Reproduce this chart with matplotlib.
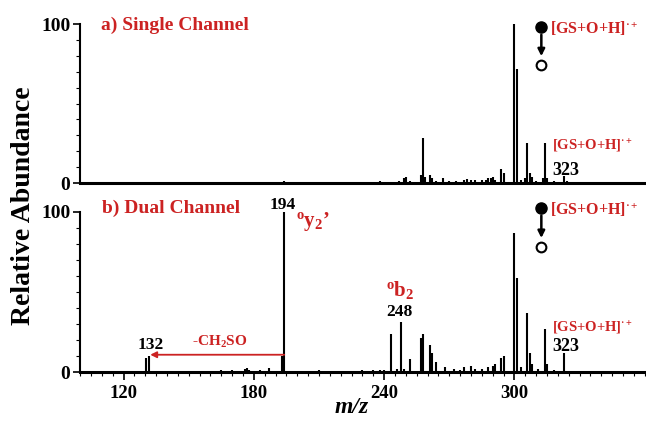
import matplotlib
matplotlib.use("Agg")
import matplotlib.pyplot as plt
from matplotlib.ticker import MultipleLocator

plt.rcParams['font.family'] = ['Liberation Serif', 'DejaVu Serif']
plt.rcParams['font.weight'] = 'bold'
plt.rcParams['mathtext.fontset'] = 'custom'
plt.rcParams['mathtext.rm'] = 'Liberation Serif:bold'
plt.rcParams['mathtext.it'] = 'Liberation Serif:italic:bold'
plt.rcParams['mathtext.bf'] = 'Liberation Serif:bold'

RED = '#cc2222'

# ---- data: (m/z, relative abundance) ----
single_mz = [166, 178, 194, 207, 218, 226, 232, 238, 244, 247, 249, 250, 252, 257, 258, 259,
             261, 262, 264, 267, 270, 273, 277, 278, 280, 282, 285, 287, 288, 289, 290, 291,
             294, 295, 300, 301, 303, 305, 306, 307, 308, 310, 313, 314, 315, 318, 323, 324]
single_int = [0.5, 0.6, 1.0, 0.6, 0.5, 0.6, 0.7, 1.0, 0.8, 1.0, 3.0, 4.0, 1.0, 5.0, 28.0, 4.0,
              5.0, 3.0, 1.0, 3.0, 1.0, 1.0, 2.0, 2.5, 2.0, 2.0, 2.0, 2.0, 3.0, 3.0, 4.0, 2.0,
              9.0, 6.0, 100.0, 72.0, 2.0, 3.0, 25.0, 6.0, 4.0, 1.5, 3.0, 25.0, 3.0, 1.0, 4.5, 1.5]

dual_mz = [130.5, 131.5, 148, 155, 160, 165, 168, 170, 176, 177, 178, 183, 187, 193, 194,
           200, 205, 210, 215, 220, 225, 230, 235, 238, 240, 243, 246, 248, 249, 252, 257, 258,
           261, 262, 264, 268, 272, 275, 277, 280, 282, 285, 288, 290, 291, 294, 295,
           300, 301, 303, 306, 307, 308, 311, 314, 315, 318, 323]
dual_int = [9.0, 10.0, 0.5, 0.6, 0.8, 1.0, 0.8, 1.5, 2.0, 2.5, 1.0, 1.0, 2.5, 10.0, 100.0,
            0.8, 0.8, 1.2, 0.8, 0.8, 0.8, 1.0, 1.0, 1.5, 1.0, 24.0, 2.0, 31.0, 2.0, 8.0, 21.0, 24.0,
            17.0, 12.0, 6.0, 3.0, 2.0, 1.5, 3.0, 4.0, 2.0, 2.0, 3.0, 4.0, 5.0, 9.0, 10.0,
            87.0, 59.0, 3.0, 37.0, 12.0, 5.0, 2.0, 27.0, 5.0, 1.5, 12.0]

x_major = [120, 180, 240, 300]
y_ticks = [0, 100]

fig = plt.figure(figsize=(6.46, 4.28), dpi=100)
ax1 = fig.add_axes([0.124, 0.5724, 0.874, 0.3715])
ax2 = fig.add_axes([0.124, 0.1308, 0.874, 0.3739])

for ax in (ax1, ax2):
    ax.set_xlim(100, 360)
    ax.set_ylim(0, 100)
    for s in ('top', 'right'):
        ax.spines[s].set_visible(False)
    ax.spines['left'].set_linewidth(1.5)
    ax.spines['bottom'].set_linewidth(2.2)
    ax.set_yticks(y_ticks)
    ax.set_yticklabels([str(v) for v in y_ticks], fontsize=14, fontweight='bold')
    ax.yaxis.set_minor_locator(MultipleLocator(10))
    ax.tick_params(axis='y', which='major', direction='out', length=5, width=1.2, pad=2)
    ax.tick_params(axis='y', which='minor', direction='out', length=3, width=0.8)

ax1.vlines(single_mz, 0, single_int, color='black', lw=1.5)
ax2.vlines(dual_mz, 0, dual_int, color='black', lw=1.5)

ax1.set_xticks([])
ax1.tick_params(axis='x', which='both', length=0)
ax2.set_xticks(x_major)
ax2.set_xticklabels([str(v) for v in x_major], fontsize=13.5, fontweight='bold')
ax2.xaxis.set_minor_locator(MultipleLocator(5))
ax2.tick_params(axis='x', which='major', direction='out', length=6, width=1.2, pad=3)
ax2.tick_params(axis='x', which='minor', direction='out', length=3, width=0.8)

# panel titles
ax1.text(109.4, 99, 'a) Single Channel', color=RED, fontsize=14, fontweight='bold', va='center', ha='left')
ax2.text(110, 102, 'b) Dual Channel', color=RED, fontsize=14, fontweight='bold', va='center', ha='left', clip_on=False)

# precursor symbols & labels
for ax, yf, yo, ylab, ysm, y323 in ((ax1, 98, 74, 97, 23.0, 8), (ax2, 102.5, 78, 101.5, 27.5, 16)):
    ax.plot([312.4], [yf], 'o', color='black', ms=8, clip_on=False)
    ax.plot([312.4], [yo], 'o', mfc='white', mec='black', mew=1.5, ms=7, clip_on=False)
    ax.annotate('', xy=(312.4, yo + 4), xytext=(312.4, yf - 3),
                arrowprops=dict(arrowstyle='-|>', color='black', lw=1.8, mutation_scale=10),
                annotation_clip=False)
    ax.text(316.5, ylab, '[GS+O+H]$^{·+}$', color=RED, fontsize=11.5, fontweight='bold',
            va='center', ha='left', clip_on=False)
    ax.text(317.4, ysm, '[GS+O+H]$^{·+}$', color=RED, fontsize=10.5, fontweight='bold',
            va='center', ha='left')
    ax.text(317.4, y323, '323', color='black', fontsize=13, fontweight='bold', va='center', ha='left')

# fragment annotations (bottom panel)
ax2.text(193.4, 104.5, '194', color='black', fontsize=12.5, fontweight='bold', va='center', ha='center', clip_on=False)
ax2.text(199.5, 94, r'$^{\mathrm{o}}$y$_{2}$' + '\u2019', color=RED, fontsize=15, fontweight='bold', va='center', ha='left')
ax2.text(241, 51, r'$^{\mathrm{o}}$b$_{2}$', color=RED, fontsize=15, fontweight='bold', va='center', ha='left')
ax2.text(247, 37.5, '248', color='black', fontsize=12.5, fontweight='bold', va='center', ha='center')
ax2.text(132.4, 17, '132', color='black', fontsize=12.5, fontweight='bold', va='center', ha='center')
ax2.text(164.5, 18.5, '-CH$_{2}$SO', color=RED, fontsize=11, fontweight='bold', va='center', ha='center')
ax2.annotate('', xy=(132.3, 10.8), xytext=(194, 10.8),
             arrowprops=dict(arrowstyle='-|>', color=RED, lw=1.3, mutation_scale=9,
                             shrinkA=0, shrinkB=0))

fig.text(0.036, 0.52, 'Relative Abundance', rotation=90, fontsize=20, fontweight='bold',
         va='center', ha='center')
fig.text(0.545, 0.047, 'm/z', fontsize=17, fontweight='bold', style='italic', va='center', ha='center')

fig.savefig('out.png', dpi=100)
